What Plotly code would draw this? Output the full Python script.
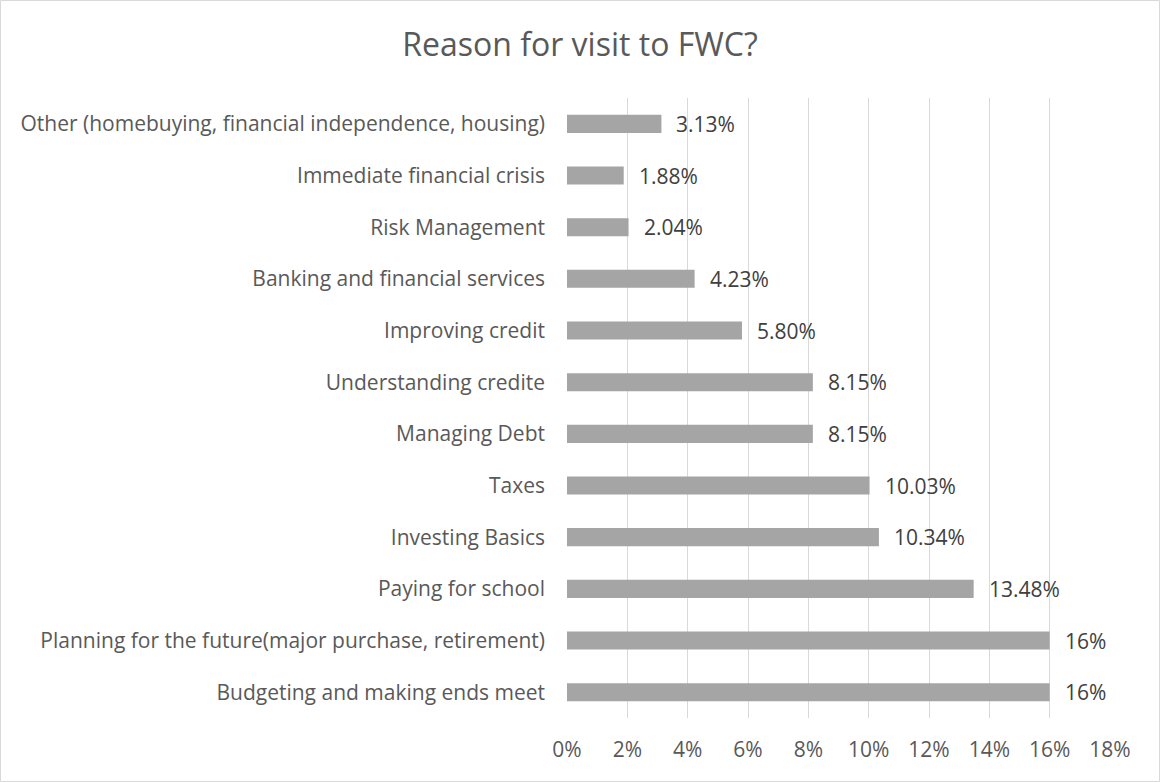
import plotly.graph_objects as go

# Survey responses: reason for visiting the Financial Wellness Center
categories = [
    "Budgeting and making ends meet",
    "Planning for the future(major purchase, retirement)",
    "Paying for school",
    "Investing Basics",
    "Taxes",
    "Managing Debt",
    "Understanding credite",
    "Improving credit",
    "Banking and financial services",
    "Risk Management",
    "Immediate financial crisis",
    "Other (homebuying, financial independence, housing)",
]
shares = [0.16, 0.16, 0.1348, 0.1034, 0.1003, 0.0815, 0.0815, 0.058, 0.0423, 0.0204, 0.0188, 0.0313]
share_labels = ["16%", "16%", "13.48%", "10.34%", "10.03%", "8.15%", "8.15%",
                "5.80%", "4.23%", "2.04%", "1.88%", "3.13%"]
tick_values = [0, 0.02, 0.04, 0.06, 0.08, 0.10, 0.12, 0.14, 0.16, 0.18]
tick_labels = ["0%", "2%", "4%", "6%", "8%", "10%", "12%", "14%", "16%", "18%"]

W, H = 1160, 782
L, R, T, B = 567, 50, 98, 64
FONT = "Open Sans"
TEXT_SIZE = 21

fig = go.Figure(
    go.Bar(
        x=shares,
        y=categories,
        orientation="h",
        marker=dict(color="#A5A5A5", line=dict(width=0)),
        width=0.35,
        hoverinfo="skip",
    )
)

# value labels just past the end of each bar
for cat, val, lab in zip(categories, shares, share_labels):
    fig.add_annotation(
        x=val, y=cat, text=lab, showarrow=False,
        xanchor="left", yanchor="middle", xshift=13,
        font=dict(family=FONT, size=TEXT_SIZE, color="#404040"),
    )

# thin light border around the whole chart area
pw, ph = W - L - R, H - T - B
fig.add_shape(
    type="rect", xref="paper", yref="paper",
    x0=(-L + 0.5) / pw, x1=(W - L - 0.5) / pw,
    y0=(-B + 0.5) / ph, y1=(H - B - 0.5) / ph,
    line=dict(color="#D9D9D9", width=1), fillcolor="rgba(0,0,0,0)",
)

fig.update_layout(
    width=W, height=H,
    margin=dict(l=L, r=R, t=T, b=B),
    paper_bgcolor="white", plot_bgcolor="white",
    title=dict(
        text="Reason for visit to FWC?",
        x=0.5, xref="container", xanchor="center",
        y=1 - 45 / H, yanchor="middle",
        font=dict(family=FONT, size=32, color="#595959"),
    ),
    font=dict(family=FONT, color="#595959"),
    showlegend=False,
    bargap=0.65,
)

fig.update_xaxes(
    range=[0, 0.18],
    tickvals=tick_values, ticktext=tick_labels,
    showgrid=True, gridcolor="#D9D9D9", gridwidth=1,
    zeroline=False, showline=False,
    ticks="", ticklabelstandoff=17,
    tickfont=dict(family=FONT, size=TEXT_SIZE, color="#595959"),
)
fig.update_yaxes(
    categoryorder="array", categoryarray=categories,
    showgrid=False, zeroline=False, showline=False,
    ticks="", ticklabelstandoff=21,
    tickfont=dict(family=FONT, size=TEXT_SIZE, color="#595959"),
)

fig.write_html("out.html")
